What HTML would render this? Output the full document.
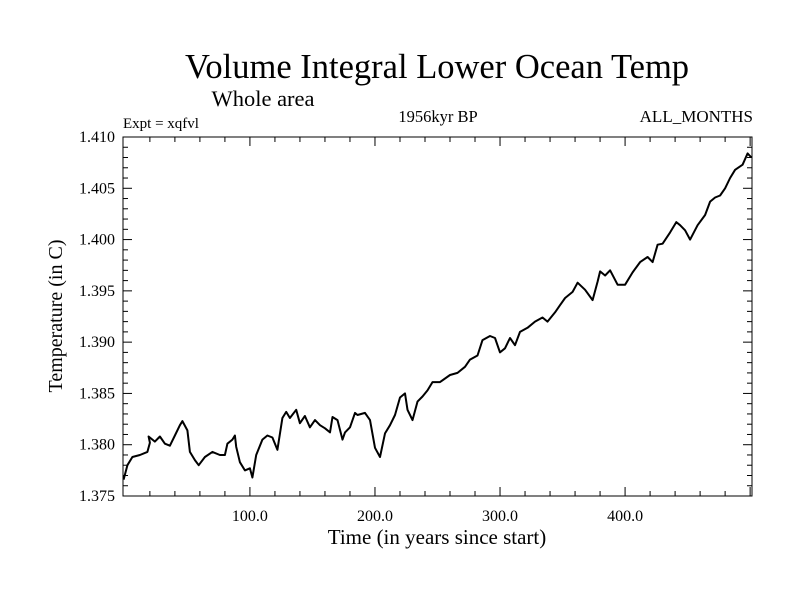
<!DOCTYPE html>
<html><head><meta charset="utf-8"><style>
body{margin:0;background:#fff;}
svg{display:block;font-family:"Liberation Serif",serif;}
</style></head><body>
<svg id="chart" width="800" height="600" viewBox="0 0 800 600">
<rect width="800" height="600" fill="#fff"/>
<text x="437" y="78" font-size="34.5" text-anchor="middle">Volume Integral Lower Ocean Temp</text>
<text x="263" y="106" font-size="22.5" text-anchor="middle">Whole area</text>
<text x="123" y="128" font-size="15">Expt = xqfvl</text>
<text x="438" y="122" font-size="16.5" text-anchor="middle">1956kyr BP</text>
<text x="753" y="122" font-size="17" text-anchor="end">ALL_MONTHS</text>
<text transform="translate(62,316) rotate(-90)" font-size="20" text-anchor="middle">Temperature (in C)</text>
<text x="437" y="544" font-size="21" text-anchor="middle">Time (in years since start)</text>
<g id="axes"></g>
<path id="series" fill="none" stroke="#000" stroke-width="2" stroke-linejoin="round"/>
<rect x="123" y="137" width="629" height="359" fill="none" stroke="#000" stroke-width="1"/>
</svg>
<script>
const years=[-1,2,6,12,18,20,19,24,28,32,36,40,44,46,50,52,56,59,64,70,76,80,82,86,88,89,92,96,100,102,105,110,114,118,122,126,129,132,137,140,144,148,152,156,160,164,166,170,174,176,180,184,186,192,196,200,204,208,212,216,220,224,226,230,234,238,242,246,252,260,266,272,276,282,286,292,296,300,304,308,312,316,322,328,334,338,344,348,352,358,362,368,374,378,380,384,388,394,400,406,412,418,422,426,430,436,441,444,448,452,458,464,468,472,476,480,484,488,494,498,501];
const temps=[1.3766,1.3780,1.3788,1.3790,1.3793,1.3802,1.3808,1.3803,1.3808,1.3801,1.3799,1.3809,1.3819,1.3823,1.3814,1.3793,1.3785,1.3780,1.3788,1.3793,1.3790,1.3790,1.3801,1.3805,1.3809,1.3798,1.3783,1.3775,1.3777,1.3768,1.3790,1.3805,1.3809,1.3807,1.3795,1.3826,1.3832,1.3826,1.3834,1.3821,1.3828,1.3817,1.3824,1.3819,1.3816,1.3812,1.3827,1.3824,1.3805,1.3812,1.3817,1.3831,1.3829,1.3831,1.3824,1.3797,1.3788,1.3811,1.3819,1.3829,1.3846,1.3850,1.3834,1.3824,1.3842,1.3847,1.3853,1.3861,1.3861,1.3868,1.3870,1.3876,1.3883,1.3887,1.3902,1.3906,1.3904,1.3890,1.3894,1.3904,1.3897,1.3910,1.3914,1.3920,1.3924,1.3920,1.3929,1.3936,1.3943,1.3949,1.3958,1.3951,1.3941,1.3959,1.3969,1.3965,1.3970,1.3956,1.3956,1.3968,1.3978,1.3983,1.3978,1.3995,1.3996,1.4007,1.4017,1.4014,1.4009,1.4000,1.4014,1.4024,1.4037,1.4041,1.4043,1.4050,1.4060,1.4068,1.4073,1.4084,1.4080];
const yTicks=[1.375,1.380,1.385,1.390,1.395,1.400,1.405,1.410];
const xTicks=[100,200,300,400];
const X0=123,X1=752,Y0=496,Y1=137,tMin=-1.5,tMax=501.5,vMin=1.375,vMax=1.410;
function xs(t){return X0+(t-tMin)/(tMax-tMin)*(X1-X0);}
function ys(v){return Y0-(v-vMin)/(vMax-vMin)*(Y0-Y1);}
const NS='http://www.w3.org/2000/svg';
const g=document.getElementById('axes');
function line(x1,y1,x2,y2,name){const l=document.createElementNS(NS,'line');
l.setAttribute('x1',x1);l.setAttribute('y1',y1);l.setAttribute('x2',x2);l.setAttribute('y2',y2);
l.setAttribute('stroke','#000');l.setAttribute('stroke-width','1');


g.appendChild(l);}
function text(x,y,s,anchor,name){const t=document.createElementNS(NS,'text');
t.setAttribute('x',x);t.setAttribute('y',y);t.setAttribute('font-size','16');t.setAttribute('text-anchor',anchor);t.textContent=s;


g.appendChild(t);}
for(let t=20;t<=500;t+=20){const x=xs(t);const major=t%100===0;const L=major?9:5;
line(x,Y0,x,Y0-L,'x-tick');line(x,Y1,x,Y1+L,'x-tick');}
xTicks.forEach(t=>text(xs(t),521,t.toFixed(1),'middle','x-tick-label'));
for(let i=0;i<=35;i++){const v=vMin+i*0.001;const y=ys(v);const major=i%5===0;const L=major?9:5;
line(X0,y,X0+L,y,'y-tick');line(X1,y,X1-L,y,'y-tick');}
yTicks.forEach(v=>text(115,ys(v)+5,v.toFixed(3),'end','y-tick-label'));
let d='';years.forEach((t,i)=>{d+=(i?'L':'M')+xs(Math.max(t,tMin)).toFixed(1)+','+ys(temps[i]).toFixed(1);});
document.getElementById('series').setAttribute('d',d);
</script>
</body></html>
